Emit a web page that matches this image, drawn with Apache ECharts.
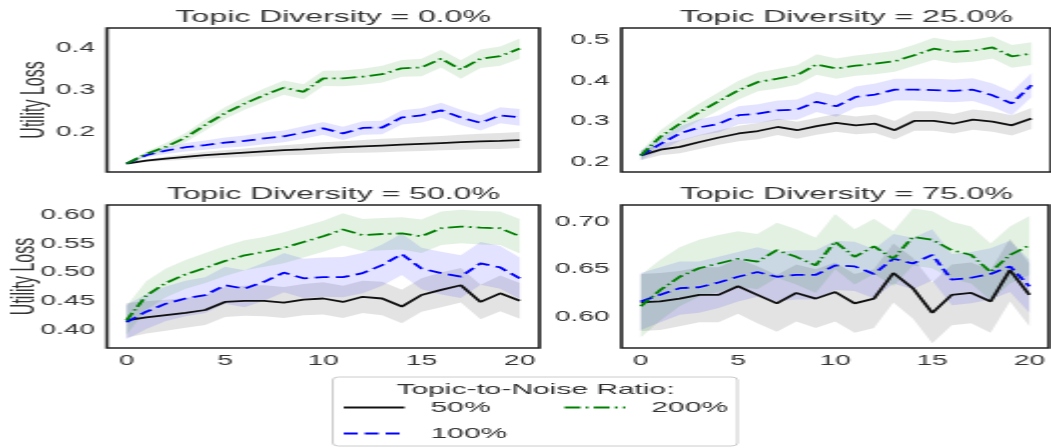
<!DOCTYPE html>
<html>
<head>
<meta charset="utf-8">
<script src="https://cdn.jsdelivr.net/npm/echarts@6/dist/echarts.min.js"></script>
<style>
  html, body { margin: 0; padding: 0; background: #fff; overflow: hidden; }
  /* the figure is laid out narrow and stretched horizontally to the page width */
  #chart { width: 526px; height: 448px; transform: scaleX(1.998); transform-origin: 0 0; }
</style>
</head>
<body>
<div id="chart"></div>
<script>
// x positions (steps) shared by every panel
const steps = [0, 1, 2, 3, 4, 5, 6, 7, 8, 9, 10, 11, 12, 13, 14, 15, 16, 17, 18, 19, 20];
const xTicks = [0, 5, 10, 15, 20];
const ratioNames = ['50%', '100%', '200%'];
const panelTitles = ['Topic Diversity = 0.0%', 'Topic Diversity = 25.0%', 'Topic Diversity = 50.0%', 'Topic Diversity = 75.0%'];

// Topic diversity 0.0%
const td0_r50 = [0.125, 0.132, 0.137, 0.141, 0.145, 0.148, 0.151, 0.154, 0.157, 0.159, 0.162, 0.164, 0.166, 0.168, 0.170, 0.172, 0.174, 0.176, 0.178, 0.179, 0.181];
const td0_r50_ci = [0, 0.003, 0.005, 0.007, 0.008, 0.009, 0.010, 0.011, 0.012, 0.013, 0.014, 0.014, 0.015, 0.016, 0.016, 0.017, 0.017, 0.018, 0.018, 0.019, 0.019];
const td0_r100 = [0.125, 0.145, 0.156, 0.164, 0.169, 0.175, 0.179, 0.185, 0.190, 0.199, 0.209, 0.197, 0.210, 0.211, 0.235, 0.240, 0.252, 0.235, 0.222, 0.240, 0.235];
const td0_r100_ci = [0, 0.005, 0.008, 0.010, 0.011, 0.012, 0.013, 0.014, 0.014, 0.015, 0.015, 0.016, 0.016, 0.016, 0.017, 0.017, 0.018, 0.018, 0.018, 0.019, 0.020];
const td0_r200 = [0.125, 0.148, 0.165, 0.187, 0.217, 0.245, 0.268, 0.288, 0.306, 0.296, 0.328, 0.328, 0.332, 0.338, 0.352, 0.354, 0.375, 0.349, 0.375, 0.381, 0.399];
const td0_r200_ci = [0, 0.006, 0.009, 0.011, 0.013, 0.014, 0.015, 0.016, 0.017, 0.018, 0.018, 0.019, 0.019, 0.020, 0.020, 0.021, 0.021, 0.022, 0.022, 0.023, 0.024];

// Topic diversity 25.0%
const td25_r50 = [0.216, 0.230, 0.237, 0.249, 0.260, 0.270, 0.276, 0.286, 0.278, 0.288, 0.296, 0.290, 0.294, 0.278, 0.301, 0.301, 0.294, 0.304, 0.299, 0.290, 0.307];
const td25_r50_ci = [0.012, 0.014, 0.016, 0.017, 0.018, 0.019, 0.020, 0.020, 0.021, 0.021, 0.022, 0.022, 0.023, 0.023, 0.024, 0.024, 0.024, 0.025, 0.025, 0.025, 0.026];
const td25_r100 = [0.216, 0.244, 0.270, 0.285, 0.294, 0.315, 0.319, 0.327, 0.329, 0.348, 0.337, 0.360, 0.366, 0.378, 0.378, 0.377, 0.375, 0.378, 0.364, 0.344, 0.389];
const td25_r100_ci = [0.012, 0.016, 0.018, 0.020, 0.021, 0.022, 0.023, 0.024, 0.025, 0.025, 0.026, 0.026, 0.027, 0.027, 0.027, 0.028, 0.028, 0.028, 0.029, 0.029, 0.030];
const td25_r200 = [0.216, 0.262, 0.294, 0.323, 0.350, 0.377, 0.397, 0.405, 0.414, 0.440, 0.430, 0.437, 0.442, 0.448, 0.463, 0.479, 0.471, 0.474, 0.482, 0.460, 0.467];
const td25_r200_ci = [0.010, 0.016, 0.019, 0.021, 0.022, 0.023, 0.023, 0.024, 0.024, 0.025, 0.025, 0.025, 0.026, 0.026, 0.026, 0.027, 0.027, 0.027, 0.027, 0.028, 0.028];

// Topic diversity 50.0%
const td50_r50 = [0.417, 0.422, 0.426, 0.430, 0.435, 0.449, 0.451, 0.451, 0.448, 0.453, 0.455, 0.449, 0.458, 0.455, 0.441, 0.461, 0.470, 0.478, 0.449, 0.464, 0.451];
const td50_r50_ci = [0.030, 0.028, 0.027, 0.026, 0.026, 0.026, 0.026, 0.027, 0.027, 0.027, 0.028, 0.028, 0.028, 0.029, 0.029, 0.029, 0.030, 0.030, 0.030, 0.031, 0.031];
const td50_r100 = [0.414, 0.432, 0.446, 0.455, 0.461, 0.478, 0.472, 0.484, 0.500, 0.490, 0.492, 0.492, 0.499, 0.513, 0.532, 0.507, 0.499, 0.493, 0.516, 0.509, 0.490];
const td50_r100_ci = [0.030, 0.030, 0.030, 0.031, 0.031, 0.032, 0.032, 0.033, 0.034, 0.034, 0.034, 0.035, 0.035, 0.036, 0.036, 0.036, 0.037, 0.037, 0.037, 0.037, 0.036];
const td50_r200 = [0.417, 0.460, 0.482, 0.497, 0.508, 0.520, 0.530, 0.536, 0.543, 0.553, 0.563, 0.575, 0.565, 0.567, 0.568, 0.563, 0.577, 0.580, 0.578, 0.577, 0.563];
const td50_r200_ci = [0.025, 0.025, 0.025, 0.025, 0.026, 0.026, 0.026, 0.026, 0.027, 0.027, 0.027, 0.028, 0.028, 0.028, 0.028, 0.029, 0.029, 0.029, 0.029, 0.029, 0.030];

// Topic diversity 75.0%
const td75_r50 = [0.615, 0.616, 0.619, 0.623, 0.623, 0.632, 0.623, 0.614, 0.625, 0.619, 0.626, 0.614, 0.619, 0.646, 0.630, 0.604, 0.623, 0.625, 0.616, 0.649, 0.623];
const td75_r50_ci = [0.030, 0.030, 0.029, 0.029, 0.029, 0.029, 0.030, 0.030, 0.030, 0.031, 0.031, 0.031, 0.031, 0.031, 0.032, 0.032, 0.032, 0.032, 0.033, 0.033, 0.033];
const td75_r100 = [0.616, 0.623, 0.630, 0.631, 0.636, 0.642, 0.647, 0.642, 0.644, 0.644, 0.654, 0.653, 0.645, 0.661, 0.656, 0.665, 0.639, 0.641, 0.645, 0.653, 0.632];
const td75_r100_ci = [0.030, 0.029, 0.028, 0.027, 0.027, 0.026, 0.026, 0.026, 0.026, 0.026, 0.026, 0.026, 0.026, 0.026, 0.027, 0.027, 0.027, 0.027, 0.027, 0.027, 0.028];
const td75_r200 = [0.611, 0.628, 0.642, 0.651, 0.656, 0.661, 0.658, 0.670, 0.663, 0.654, 0.679, 0.663, 0.674, 0.661, 0.684, 0.681, 0.670, 0.665, 0.647, 0.665, 0.675];
const td75_r200_ci = [0.033, 0.032, 0.031, 0.030, 0.030, 0.029, 0.029, 0.029, 0.029, 0.029, 0.029, 0.029, 0.029, 0.029, 0.030, 0.030, 0.030, 0.030, 0.030, 0.030, 0.031];

// y tick labels per panel
const yTicksTd0 = [0.2, 0.3, 0.4];
const yTicksTd25 = [0.2, 0.3, 0.4, 0.5];
const yTicksTd50 = [0.40, 0.45, 0.50, 0.55, 0.60];
const yTicksTd75 = [0.60, 0.65, 0.70];

const FONT = '"Liberation Sans", Arial, Helvetica, sans-serif';
const TEXT = '#333';

const panels = [
  { title: panelTitles[0], means: [td0_r50, td0_r100, td0_r200], cis: [td0_r50_ci, td0_r100_ci, td0_r200_ci],
    yTicks: yTicksTd0, dec: 1, yMin: 0.105, yMax: 0.448, grid: { left: 53.5, top: 28, width: 216.5, height: 144 }, ylabel: true, xlabels: false, nameGap: 28 },
  { title: panelTitles[1], means: [td25_r50, td25_r100, td25_r200], cis: [td25_r50_ci, td25_r100_ci, td25_r200_ci],
    yTicks: yTicksTd25, dec: 1, yMin: 0.175, yMax: 0.53, grid: { left: 311, top: 28, width: 215, height: 144 }, ylabel: false, xlabels: false },
  { title: panelTitles[2], means: [td50_r50, td50_r100, td50_r200], cis: [td50_r50_ci, td50_r100_ci, td50_r200_ci],
    yTicks: yTicksTd50, dec: 2, yMin: 0.369, yMax: 0.6174, grid: { left: 53.5, top: 205, width: 216.5, height: 143 }, ylabel: true, xlabels: true, nameGap: 33 },
  { title: panelTitles[3], means: [td75_r50, td75_r100, td75_r200], cis: [td75_r50_ci, td75_r100_ci, td75_r200_ci],
    yTicks: yTicksTd75, dec: 2, yMin: 0.567, yMax: 0.7176, grid: { left: 311, top: 205, width: 215, height: 143 }, ylabel: false, xlabels: true }
];

// line colours / dash patterns for the three ratios
const lineColors = ['#111111', '#0000ff', '#008000'];
const bandColors = ['rgba(0,0,0,0.11)', 'rgba(0,0,255,0.11)', 'rgba(0,128,0,0.11)'];
const lineTypes = ['solid', [7, 3.5], [8, 2.6, 1.4, 2.6]];

function bandSeries(gi, mean, ci, color, name) {
  const lo = mean.map((m, i) => m - ci[i]);
  const hi = mean.map((m, i) => m + ci[i]);
  return {
    type: 'custom', name: name, xAxisIndex: gi, yAxisIndex: gi, silent: true, z: 1,
    data: steps.map((s, i) => [s, lo[i], hi[i]]),
    encode: { x: 0, y: [1, 2] },
    renderItem: function (params, api) {
      if (params.dataIndex !== 0) return null;
      const pts = [];
      for (let i = 0; i < steps.length; i++) pts.push(api.coord([steps[i], hi[i]]));
      for (let i = steps.length - 1; i >= 0; i--) pts.push(api.coord([steps[i], lo[i]]));
      return { type: 'polygon', shape: { points: pts }, style: { fill: color } };
    }
  };
}

const grids = [], xAxes = [], yAxes = [], titles = [], series = [];
panels.forEach((p, gi) => {
  grids.push(Object.assign({ show: true, borderColor: '#222', borderWidth: 1.6, backgroundColor: 'transparent' }, p.grid));
  titles.push({
    text: p.title, left: p.grid.left + p.grid.width / 2, top: p.grid.top - 23, textAlign: 'center',
    textStyle: { fontFamily: FONT, fontSize: 16, fontWeight: 'normal', color: TEXT }
  });
  xAxes.push({
    type: 'value', gridIndex: gi, min: -1, max: 21,
    axisLine: { show: false }, axisTick: { show: false }, splitLine: { show: false },
    axisLabel: { show: p.xlabels, customValues: xTicks, margin: 6, fontFamily: FONT, fontSize: 14, color: TEXT }
  });
  yAxes.push({
    type: 'value', gridIndex: gi, min: p.yMin, max: p.yMax,
    axisLine: { show: false }, axisTick: { show: false }, splitLine: { show: false },
    axisLabel: { customValues: p.yTicks, margin: 6, fontFamily: FONT, fontSize: 14, color: TEXT,
      formatter: (v) => v.toFixed(p.dec) },
    name: p.ylabel ? 'Utility Loss' : '', nameLocation: 'middle', nameRotate: 90, nameGap: p.nameGap || 30,
    nameMoveOverlap: false,
    nameTextStyle: { fontFamily: FONT, fontSize: 16, color: TEXT }
  });
  for (let k = 0; k < 3; k++) {
    series.push(bandSeries(gi, p.means[k], p.cis[k], bandColors[k], ratioNames[k] + ' interval'));
  }
  for (let k = 0; k < 3; k++) {
    series.push({
      type: 'line', name: ratioNames[k], xAxisIndex: gi, yAxisIndex: gi, z: 3 + k,
      data: steps.map((s, i) => [s, p.means[k][i]]),
      showSymbol: false, symbol: 'none', silent: true,
      lineStyle: { color: lineColors[k], width: 1.8, type: lineTypes[k] },
      itemStyle: { color: lineColors[k] },
      emphasis: { disabled: true }
    });
  }
});

const legendCommon = {
  orient: 'vertical', top: 400, padding: 0, itemWidth: 30.5, itemHeight: 14, itemGap: 11, selectedMode: false,
  itemStyle: { opacity: 0 },
  textStyle: { fontFamily: FONT, fontSize: 15, color: TEXT, padding: [0, 0, 0, 8] }
};

const chart = echarts.init(document.getElementById('chart'), null, { renderer: 'canvas' });
chart.setOption({
  animation: false,
  backgroundColor: '#fff',
  title: titles,
  grid: grids,
  xAxis: xAxes,
  yAxis: yAxes,
  legend: [
    Object.assign({ data: ['50%', '100%'], left: 171 }, legendCommon),
    Object.assign({ data: ['200%'], left: 281.5 }, legendCommon)
  ],
  graphic: [
    { type: 'rect', z: 0, shape: { x: 166.5, y: 377, width: 202.5, height: 69, r: 3 },
      style: { fill: '#fff', stroke: '#cccccc', lineWidth: 1 } },
    { type: 'text', z: 1, x: 268, y: 390,
      style: { text: 'Topic-to-Noise Ratio:', textAlign: 'center', textVerticalAlign: 'middle',
        font: '15px ' + FONT, fill: TEXT } }
  ],
  series: series
});
</script>
</body>
</html>
